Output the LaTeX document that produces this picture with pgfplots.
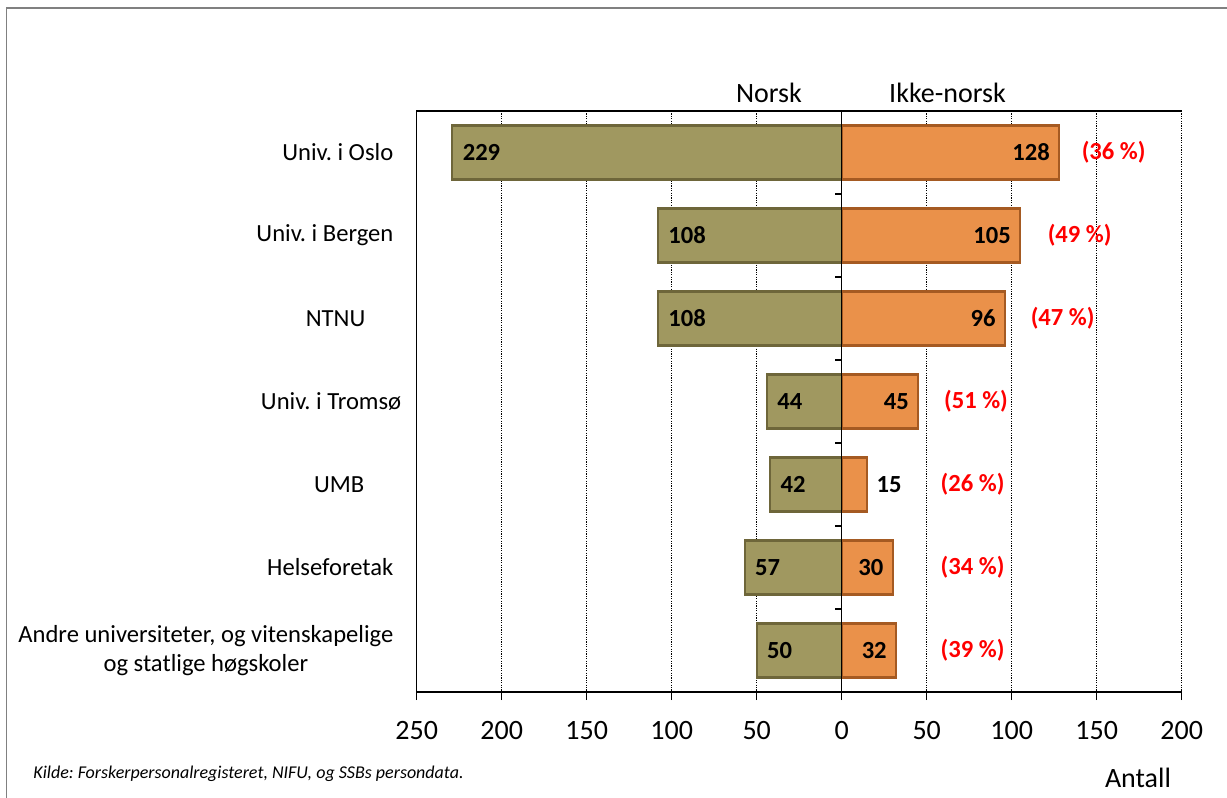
\documentclass[border=0pt]{standalone}
\usepackage{pgfplots}
\pgfplotsset{compat=1.18}
\usepackage{pgfplotstable}
\usepackage{fontspec}
\setmainfont{Carlito}
\frenchspacing
\definecolor{olivebar}{RGB}{160,152,96}
\definecolor{olivedark}{RGB}{110,102,58}
\definecolor{orangebar}{RGB}{234,145,74}
\definecolor{orangedark}{RGB}{165,90,34}
\definecolor{framegray}{RGB}{128,128,128}
\definecolor{pctred}{RGB}{255,0,0}

\pgfplotstableread{
y nor ikke
1 229 128
2 108 105
3 108 96
4 44 45
5 42 15
6 57 30
7 50 32
}\bars

\pgfplotstableread{
y ikke
1 128
2 105
3 96
4 45
6 30
7 32
}\ikkein

\pgfplotstableread{
y ikke
5 15
}\ikkeout

\pgfplotstableread{
y px pct
1 160 36
2 140 49
3 130 47
4 79 51
5 77 26
6 77 34
7 77 39
}\pcts

\begin{document}
\begin{tikzpicture}
\path[use as bounding box] (0,0) rectangle (613.5pt,399pt);
\draw[framegray, line width=0.75pt] (3.25pt,-5pt) -- (3.25pt,395pt) -- (620pt,395pt);
\begin{axis}[
  at={(208.35pt,53pt)}, anchor=south west,
  scale only axis, width=382.5pt, height=290.5pt,
  xmin=-250, xmax=200, ymin=0.5, ymax=7.5, y dir=reverse,
  clip=false,
  axis line style={draw=none},
  xtick={-250,-200,...,200},
  xticklabels={250,200,150,100,50,0,50,100,150,200},
  xtick pos=left,
  tick align=outside,
  major tick length=4pt,
  xtick style={black, line width=0.8pt},
  xmajorgrids,
  grid style={black, line width=0.5pt, dash pattern=on 0.6pt off 0.6pt},
  ytick={1,...,7},
  yticklabels={Univ. i Oslo, Univ. i Bergen, NTNU\hspace{14pt}, Univ. i Tromsø\hspace{-4pt}, UMB\hspace{14.5pt}, Helseforetak, {Andre universiteter, og vitenskapelige\\og statlige høgskoler}},
  ytick style={draw=none},
  yticklabel style={anchor=east, align=center, inner sep=0pt, xshift=-7.5pt, font=\fontsize{12.3}{14.5}\selectfont},
  xticklabel style={font=\fontsize{14}{16}\selectfont, yshift=-7pt},
  /pgf/number format/assume math mode=true,
  bar width=0.65,
]
\addplot[xbar, bar shift=0pt, fill=olivebar, draw=olivedark, line width=1.1pt] table[x expr=-\thisrow{nor}, y=y] {\bars};
\addplot[xbar, bar shift=0pt, fill=orangebar, draw=orangedark, line width=1.1pt] table[x=ikke, y=y] {\bars};

\addplot[draw=none, mark=none, nodes near coords, point meta=explicit symbolic,
  every node near coord/.style={anchor=west, xshift=5pt, inner sep=0pt, font=\fontsize{12.3}{14}\selectfont\bfseries, text=black}]
  table[x expr=-\thisrow{nor}, y=y, meta=nor] {\bars};
\addplot[draw=none, mark=none, nodes near coords, point meta=explicit symbolic,
  every node near coord/.style={anchor=east, xshift=-4.5pt, inner sep=0pt, font=\fontsize{12.3}{14}\selectfont\bfseries, text=black}]
  table[x=ikke, y=y, meta=ikke] {\ikkein};
\addplot[draw=none, mark=none, nodes near coords, point meta=explicit symbolic,
  every node near coord/.style={anchor=west, xshift=4.5pt, inner sep=0pt, font=\fontsize{12.3}{14}\selectfont\bfseries, text=black}]
  table[x=ikke, y=y, meta=ikke] {\ikkeout};
\addplot[draw=none, mark=none, nodes near coords={(\pgfplotspointmeta\ \%)}, point meta=explicit symbolic,
  every node near coord/.style={anchor=center, inner sep=0pt, font=\fontsize{12.3}{14}\selectfont\bfseries, text=pctred}]
  table[x=px, y=y, meta=pct] {\pcts};

\draw[black, line width=0.8pt] (rel axis cs:1,1) -- (rel axis cs:0,1) -- (rel axis cs:0,0) -- (rel axis cs:1,0);
\draw[black, line width=0.8pt] (axis cs:0,0.5) -- (axis cs:0,7.5);
\draw[black, line width=0.8pt] (axis cs:0,0.5) -- ++(-3.5pt,0pt) (axis cs:0,1.5) -- ++(-3.5pt,0pt)
  (axis cs:0,2.5) -- ++(-3.5pt,0pt) (axis cs:0,3.5) -- ++(-3.5pt,0pt)
  (axis cs:0,4.5) -- ++(-3.5pt,0pt) (axis cs:0,5.5) -- ++(-3.5pt,0pt)
  (axis cs:0,6.5) -- ++(-3.5pt,0pt) (axis cs:0,7.5) -- ++(-3.5pt,0pt);
\end{axis}
\node[anchor=base, font=\fontsize{14}{16}\selectfont, inner sep=0pt] at (384.5pt,347.5pt) {Norsk};
\node[anchor=base, font=\fontsize{14}{16}\selectfont, inner sep=0pt] at (473.75pt,347.5pt) {Ikke-norsk};
\node[anchor=base, font=\fontsize{14}{16}\selectfont, inner sep=0pt] at (569pt,5pt) {Antall};
\node[anchor=base west, font=\fontsize{9}{11}\selectfont\itshape, inner sep=0pt] at (16.5pt,9.5pt) {Kilde: Forskerpersonalregisteret, NIFU, og SSBs persondata.};
\end{tikzpicture}
\end{document}
